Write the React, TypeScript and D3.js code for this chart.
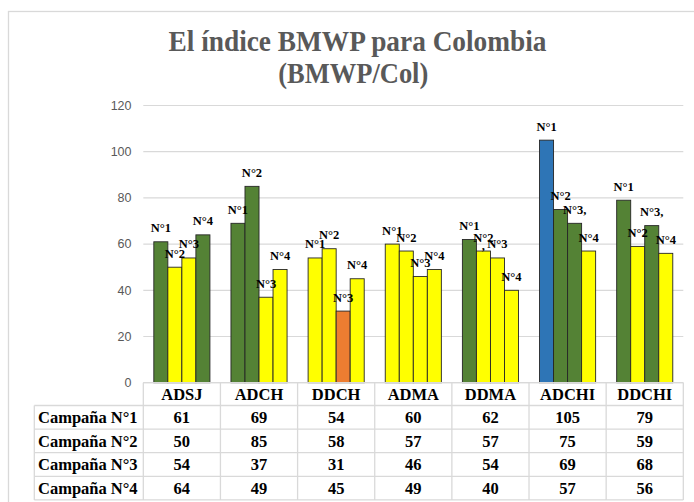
import React from "react"
import * as d3 from "d3"

const categories = ["ADSJ", "ADCH", "DDCH", "ADMA", "DDMA", "ADCHI", "DDCHI"]
const campaigns = ["Campaña N°1", "Campaña N°2", "Campaña N°3", "Campaña N°4"]
const campaign1 = [61, 69, 54, 60, 62, 105, 79]
const campaign2 = [50, 85, 58, 57, 57, 75, 59]
const campaign3 = [54, 37, 31, 46, 54, 69, 68]
const campaign4 = [64, 49, 45, 49, 40, 57, 56]
const seriesValues = [campaign1, campaign2, campaign3, campaign4]

// label text above each bar, per category (some carry the stray comma of the original)
const barLabels = [
  ["N°1", "N°2", "N°3", "N°4"],
  ["N°1", "N°2", "N°3", "N°4"],
  ["N°1", "N°2", "N°3", "N°4"],
  ["N°1", "N°2", "N°3", "N°4"],
  ["N°1", "N°2\n,", "N°3", "N°4"],
  ["N°1", "N°2", "N°3,", "N°4"],
  ["N°1", "N°2", "N°3,", "N°4"],
]

const yTicks = [0, 20, 40, 60, 80, 100, 120]

// BMWP/Col water quality classes
const classBreaks = [16, 36, 61, 101]
const classColors = ["#FF0000", "#ED7D31", "#FFFF00", "#548235", "#2E75B6"]

const W = 694
const H = 502
const plot = { left: 143.3, right: 683.3, top: 105.5, bottom: 382.7 }
const headerH = 22.8
const rowH = 23.6
const labelColLeft = 34.3

const serifStyle = { fontFamily: "Liberation Serif" }
const sansStyle = { fontFamily: "Liberation Sans" }
const grid = "#D9D9D9"

const App: React.FC = () => {
  const x = d3.scaleBand<string>().domain(categories).range([plot.left, plot.right])
  const xs = d3.scaleBand<number>()
    .domain(d3.range(seriesValues.length))
    .range([0, x.bandwidth()])
    .paddingInner(0)
    .paddingOuter(0.75)
  const y = d3.scaleLinear().domain([0, 120]).range([plot.bottom, plot.top])
  const color = d3.scaleThreshold<number, string>().domain(classBreaks).range(classColors)

  const tableTop = plot.bottom
  const rowsTop = tableTop + headerH
  const tableBottom = rowsTop + rowH * campaigns.length

  return (
    <svg width={W} height={H} style={{ position: "absolute", left: 0, top: 0 }}>
      <rect x={0} y={0} width={W} height={H} fill="#fff" />
      <rect x={8.5} y={11.5} width={720} height={520} fill="#fff" stroke={grid} strokeWidth={1.3} />

      {/* title */}
      <text x={357.5} y={51} textLength={378} lengthAdjust="spacingAndGlyphs" fill="#595959"
        fontWeight="bold" fontSize={30} textAnchor="middle" style={serifStyle}>El índice BMWP para Colombia</text>
      <text x={353.3} y={83} textLength={150} lengthAdjust="spacingAndGlyphs" fill="#595959"
        fontWeight="bold" fontSize={30} textAnchor="middle" style={serifStyle}>(BMWP/Col)</text>

      {/* gridlines + y axis labels */}
      {yTicks.map(t => (
        <g key={t}>
          <line x1={plot.left} x2={plot.right} y1={y(t)} y2={y(t)} stroke={grid} strokeWidth={1.2} />
          <text x={131.5} y={y(t)} dy="0.35em" textAnchor="end" fontSize={12.5}
            style={sansStyle} fill="#595959">{t}</text>
        </g>
      ))}

      {/* bars */}
      {categories.map((c, ci) => (
        <g key={c} transform={`translate(${x(c)},0)`}>
          {seriesValues.map((s, si) => {
            const v = s[ci]
            const bx = xs(si)!
            return (
              <rect key={si} x={bx} y={y(v)} width={xs.bandwidth()} height={y(0) - y(v)}
                fill={color(v)} stroke="#262626" strokeWidth={0.9} />
            )
          })}
          {seriesValues.map((s, si) => {
            const v = s[ci]
            const cx = xs(si)! + xs.bandwidth() / 2
            const lines = barLabels[ci][si].split("\n")
            return (
              <text key={"l" + si} x={cx} y={y(v) - 9.5} textAnchor="middle" style={serifStyle}
                fontWeight="bold" fontSize={12.5} fill="#000">
                {lines.map((ln, li) => (
                  <tspan key={li} x={cx} dy={li === 0 ? 0 : 8}>{ln}</tspan>
                ))}
              </text>
            )
          })}
        </g>
      ))}

      {/* data table */}
      <g stroke={grid} strokeWidth={1.3} fill="none">
        <line x1={plot.left} x2={plot.right} y1={tableTop} y2={tableTop} />
        {campaigns.map((_, ri) => (
          <line key={ri} x1={labelColLeft} x2={plot.right} y1={rowsTop + ri * rowH} y2={rowsTop + ri * rowH} />
        ))}
        <line x1={labelColLeft} x2={plot.right} y1={tableBottom} y2={tableBottom} />
        <line x1={labelColLeft} x2={labelColLeft} y1={rowsTop} y2={tableBottom} />
        {categories.map(c => (
          <line key={c} x1={x(c)!} x2={x(c)!} y1={tableTop} y2={tableBottom} />
        ))}
        <line x1={plot.right} x2={plot.right} y1={tableTop} y2={tableBottom} />
      </g>

      {categories.map(c => (
        <text key={c} x={x(c)! + x.bandwidth() / 2} y={tableTop + headerH / 2 + 5.8} fontWeight="bold"
          fontSize={16.5} fill="#000" textAnchor="middle" style={serifStyle}>{c}</text>
      ))}
      {campaigns.map((name, ri) => {
        const cy = rowsTop + ri * rowH + rowH / 2 + 5.8
        return (
          <g key={name}>
            <text x={(labelColLeft + plot.left) / 2 - 1} y={cy} fontWeight="bold" fontSize={16.5}
              fill="#000" textAnchor="middle" style={serifStyle}>{name}</text>
            {categories.map((c, ci) => (
              <text key={c} x={x(c)! + x.bandwidth() / 2} y={cy} fontWeight="bold" fontSize={16.5}
                fill="#000" textAnchor="middle" style={serifStyle}>{seriesValues[ri][ci]}</text>
            ))}
          </g>
        )
      })}
    </svg>
  )
}

export default App
